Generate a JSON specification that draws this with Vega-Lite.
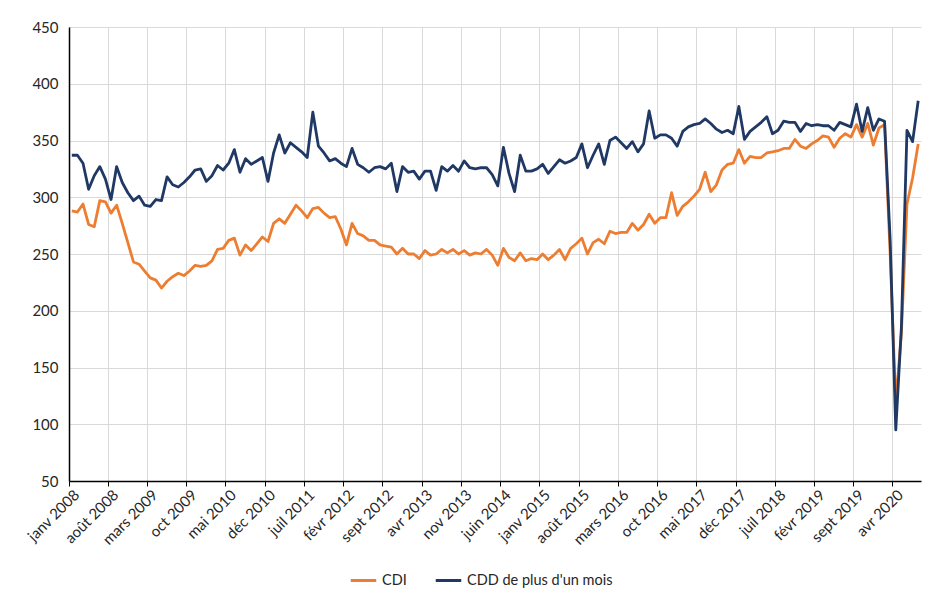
{
  "$schema": "https://vega.github.io/schema/vega-lite/v6.json",
  "width": 852,
  "height": 454,
  "autosize": {"type": "none"},
  "padding": {"left": 69, "top": 27, "right": 15, "bottom": 115},
  "background": "white",
  "config": {"view": {"stroke": null}, "font": "Lato"},
  "data": {"values": [
    {"mois": "janv 2008", "CDI": 288, "CDD": 337},
    {"mois": "févr 2008", "CDI": 287, "CDD": 337},
    {"mois": "mars 2008", "CDI": 294, "CDD": 330},
    {"mois": "avr 2008", "CDI": 276, "CDD": 307},
    {"mois": "mai 2008", "CDI": 274, "CDD": 319},
    {"mois": "juin 2008", "CDI": 297, "CDD": 327},
    {"mois": "juil 2008", "CDI": 296, "CDD": 316},
    {"mois": "août 2008", "CDI": 286, "CDD": 298},
    {"mois": "sept 2008", "CDI": 293, "CDD": 327},
    {"mois": "oct 2008", "CDI": 277, "CDD": 313},
    {"mois": "nov 2008", "CDI": 260, "CDD": 304},
    {"mois": "déc 2008", "CDI": 243, "CDD": 297},
    {"mois": "janv 2009", "CDI": 241, "CDD": 301},
    {"mois": "févr 2009", "CDI": 235, "CDD": 293},
    {"mois": "mars 2009", "CDI": 229, "CDD": 292},
    {"mois": "avr 2009", "CDI": 227, "CDD": 298},
    {"mois": "mai 2009", "CDI": 220, "CDD": 297},
    {"mois": "juin 2009", "CDI": 226, "CDD": 318},
    {"mois": "juil 2009", "CDI": 230, "CDD": 311},
    {"mois": "août 2009", "CDI": 233, "CDD": 309},
    {"mois": "sept 2009", "CDI": 231, "CDD": 313},
    {"mois": "oct 2009", "CDI": 235, "CDD": 318},
    {"mois": "nov 2009", "CDI": 240, "CDD": 324},
    {"mois": "déc 2009", "CDI": 239, "CDD": 325},
    {"mois": "janv 2010", "CDI": 240, "CDD": 314},
    {"mois": "févr 2010", "CDI": 244, "CDD": 319},
    {"mois": "mars 2010", "CDI": 254, "CDD": 328},
    {"mois": "avr 2010", "CDI": 255, "CDD": 324},
    {"mois": "mai 2010", "CDI": 262, "CDD": 330},
    {"mois": "juin 2010", "CDI": 264, "CDD": 342},
    {"mois": "juil 2010", "CDI": 249, "CDD": 322},
    {"mois": "août 2010", "CDI": 258, "CDD": 334},
    {"mois": "sept 2010", "CDI": 253, "CDD": 329},
    {"mois": "oct 2010", "CDI": 259, "CDD": 332},
    {"mois": "nov 2010", "CDI": 265, "CDD": 335},
    {"mois": "déc 2010", "CDI": 261, "CDD": 314},
    {"mois": "janv 2011", "CDI": 277, "CDD": 339},
    {"mois": "févr 2011", "CDI": 281, "CDD": 355},
    {"mois": "mars 2011", "CDI": 277, "CDD": 339},
    {"mois": "avr 2011", "CDI": 285, "CDD": 348},
    {"mois": "mai 2011", "CDI": 293, "CDD": 344},
    {"mois": "juin 2011", "CDI": 288, "CDD": 340},
    {"mois": "juil 2011", "CDI": 282, "CDD": 335},
    {"mois": "août 2011", "CDI": 290, "CDD": 375},
    {"mois": "sept 2011", "CDI": 291, "CDD": 345},
    {"mois": "oct 2011", "CDI": 286, "CDD": 339},
    {"mois": "nov 2011", "CDI": 282, "CDD": 332},
    {"mois": "déc 2011", "CDI": 283, "CDD": 334},
    {"mois": "janv 2012", "CDI": 272, "CDD": 330},
    {"mois": "févr 2012", "CDI": 258, "CDD": 327},
    {"mois": "mars 2012", "CDI": 277, "CDD": 343},
    {"mois": "avr 2012", "CDI": 268, "CDD": 329},
    {"mois": "mai 2012", "CDI": 266, "CDD": 326},
    {"mois": "juin 2012", "CDI": 262, "CDD": 322},
    {"mois": "juil 2012", "CDI": 262, "CDD": 326},
    {"mois": "août 2012", "CDI": 258, "CDD": 327},
    {"mois": "sept 2012", "CDI": 257, "CDD": 325},
    {"mois": "oct 2012", "CDI": 256, "CDD": 330},
    {"mois": "nov 2012", "CDI": 250, "CDD": 305},
    {"mois": "déc 2012", "CDI": 255, "CDD": 327},
    {"mois": "janv 2013", "CDI": 250, "CDD": 322},
    {"mois": "févr 2013", "CDI": 250, "CDD": 323},
    {"mois": "mars 2013", "CDI": 246, "CDD": 316},
    {"mois": "avr 2013", "CDI": 253, "CDD": 323},
    {"mois": "mai 2013", "CDI": 249, "CDD": 323},
    {"mois": "juin 2013", "CDI": 250, "CDD": 306},
    {"mois": "juil 2013", "CDI": 254, "CDD": 327},
    {"mois": "août 2013", "CDI": 251, "CDD": 323},
    {"mois": "sept 2013", "CDI": 254, "CDD": 328},
    {"mois": "oct 2013", "CDI": 250, "CDD": 323},
    {"mois": "nov 2013", "CDI": 253, "CDD": 332},
    {"mois": "déc 2013", "CDI": 249, "CDD": 326},
    {"mois": "janv 2014", "CDI": 251, "CDD": 325},
    {"mois": "févr 2014", "CDI": 250, "CDD": 326},
    {"mois": "mars 2014", "CDI": 254, "CDD": 326},
    {"mois": "avr 2014", "CDI": 249, "CDD": 320},
    {"mois": "mai 2014", "CDI": 240, "CDD": 310},
    {"mois": "juin 2014", "CDI": 255, "CDD": 344},
    {"mois": "juil 2014", "CDI": 247, "CDD": 321},
    {"mois": "août 2014", "CDI": 244, "CDD": 305},
    {"mois": "sept 2014", "CDI": 251, "CDD": 337},
    {"mois": "oct 2014", "CDI": 244, "CDD": 323},
    {"mois": "nov 2014", "CDI": 246, "CDD": 323},
    {"mois": "déc 2014", "CDI": 245, "CDD": 325},
    {"mois": "janv 2015", "CDI": 250, "CDD": 329},
    {"mois": "févr 2015", "CDI": 245, "CDD": 321},
    {"mois": "mars 2015", "CDI": 249, "CDD": 327},
    {"mois": "avr 2015", "CDI": 254, "CDD": 333},
    {"mois": "mai 2015", "CDI": 245, "CDD": 330},
    {"mois": "juin 2015", "CDI": 255, "CDD": 332},
    {"mois": "juil 2015", "CDI": 259, "CDD": 335},
    {"mois": "août 2015", "CDI": 264, "CDD": 347},
    {"mois": "sept 2015", "CDI": 250, "CDD": 326},
    {"mois": "oct 2015", "CDI": 260, "CDD": 337},
    {"mois": "nov 2015", "CDI": 263, "CDD": 347},
    {"mois": "déc 2015", "CDI": 259, "CDD": 329},
    {"mois": "janv 2016", "CDI": 270, "CDD": 350},
    {"mois": "févr 2016", "CDI": 268, "CDD": 353},
    {"mois": "mars 2016", "CDI": 269, "CDD": 348},
    {"mois": "avr 2016", "CDI": 269, "CDD": 343},
    {"mois": "mai 2016", "CDI": 277, "CDD": 349},
    {"mois": "juin 2016", "CDI": 271, "CDD": 340},
    {"mois": "juil 2016", "CDI": 276, "CDD": 347},
    {"mois": "août 2016", "CDI": 285, "CDD": 376},
    {"mois": "sept 2016", "CDI": 277, "CDD": 352},
    {"mois": "oct 2016", "CDI": 282, "CDD": 355},
    {"mois": "nov 2016", "CDI": 282, "CDD": 355},
    {"mois": "déc 2016", "CDI": 304, "CDD": 352},
    {"mois": "janv 2017", "CDI": 284, "CDD": 345},
    {"mois": "févr 2017", "CDI": 292, "CDD": 358},
    {"mois": "mars 2017", "CDI": 296, "CDD": 362},
    {"mois": "avr 2017", "CDI": 301, "CDD": 364},
    {"mois": "mai 2017", "CDI": 307, "CDD": 365},
    {"mois": "juin 2017", "CDI": 322, "CDD": 369},
    {"mois": "juil 2017", "CDI": 305, "CDD": 365},
    {"mois": "août 2017", "CDI": 311, "CDD": 360},
    {"mois": "sept 2017", "CDI": 324, "CDD": 357},
    {"mois": "oct 2017", "CDI": 329, "CDD": 359},
    {"mois": "nov 2017", "CDI": 330, "CDD": 356},
    {"mois": "déc 2017", "CDI": 342, "CDD": 380},
    {"mois": "janv 2018", "CDI": 330, "CDD": 351},
    {"mois": "févr 2018", "CDI": 336, "CDD": 358},
    {"mois": "mars 2018", "CDI": 335, "CDD": 362},
    {"mois": "avr 2018", "CDI": 335, "CDD": 366},
    {"mois": "mai 2018", "CDI": 339, "CDD": 371},
    {"mois": "juin 2018", "CDI": 340, "CDD": 356},
    {"mois": "juil 2018", "CDI": 341, "CDD": 359},
    {"mois": "août 2018", "CDI": 343, "CDD": 367},
    {"mois": "sept 2018", "CDI": 343, "CDD": 366},
    {"mois": "oct 2018", "CDI": 351, "CDD": 366},
    {"mois": "nov 2018", "CDI": 345, "CDD": 358},
    {"mois": "déc 2018", "CDI": 343, "CDD": 365},
    {"mois": "janv 2019", "CDI": 347, "CDD": 363},
    {"mois": "févr 2019", "CDI": 350, "CDD": 364},
    {"mois": "mars 2019", "CDI": 354, "CDD": 363},
    {"mois": "avr 2019", "CDI": 353, "CDD": 363},
    {"mois": "mai 2019", "CDI": 344, "CDD": 359},
    {"mois": "juin 2019", "CDI": 352, "CDD": 366},
    {"mois": "juil 2019", "CDI": 356, "CDD": 364},
    {"mois": "août 2019", "CDI": 353, "CDD": 362},
    {"mois": "sept 2019", "CDI": 364, "CDD": 382},
    {"mois": "oct 2019", "CDI": 353, "CDD": 358},
    {"mois": "nov 2019", "CDI": 365, "CDD": 379},
    {"mois": "déc 2019", "CDI": 346, "CDD": 359},
    {"mois": "janv 2020", "CDI": 361, "CDD": 369},
    {"mois": "févr 2020", "CDI": 364, "CDD": 367},
    {"mois": "mars 2020", "CDI": 250, "CDD": 262},
    {"mois": "avr 2020", "CDI": 118, "CDD": 95},
    {"mois": "mai 2020", "CDI": 180, "CDD": 185},
    {"mois": "juin 2020", "CDI": 294, "CDD": 359},
    {"mois": "juil 2020", "CDI": 317, "CDD": 349},
    {"mois": "août 2020", "CDI": 347, "CDD": 385}
  ]},
  "transform": [{"fold": ["CDI", "CDD"], "as": ["serie", "valeur"]}],
  "mark": {"type": "line", "strokeWidth": 2.8, "strokeJoin": "round"},
  "encoding": {
    "x": {
      "field": "mois",
      "type": "ordinal",
      "sort": null,
      "scale": {"type": "band", "paddingInner": 0, "paddingOuter": 0},
      "axis": {
        "title": null,
        "values": ["janv 2008", "août 2008", "mars 2009", "oct 2009", "mai 2010", "déc 2010", "juil 2011", "févr 2012", "sept 2012", "avr 2013", "nov 2013", "juin 2014", "janv 2015", "août 2015", "mars 2016", "oct 2016", "mai 2017", "déc 2017", "juil 2018", "févr 2019", "sept 2019", "avr 2020"],
        "bandPosition": 0,
        "grid": true,
        "gridColor": "#d9d9d9",
        "gridWidth": 1,
        "domainColor": "#000000",
        "domainWidth": 1.5,
        "tickColor": "#000000",
        "tickSize": 5,
        "labelAngle": -45,
        "labelAlign": "right",
        "labelBaseline": "top",
        "labelFontSize": 15,
        "labelColor": "#262626",
        "labelPadding": 1
      }
    },
    "y": {
      "field": "valeur",
      "type": "quantitative",
      "scale": {"domain": [50, 450], "nice": false, "zero": false},
      "axis": {
        "title": null,
        "values": [50, 100, 150, 200, 250, 300, 350, 400, 450],
        "grid": true,
        "gridColor": "#d9d9d9",
        "gridWidth": 1,
        "domainColor": "#000000",
        "domainWidth": 1.5,
        "ticks": false,
        "labelFontSize": 15,
        "labelColor": "#262626",
        "labelPadding": 11
      }
    },
    "color": {
      "field": "serie",
      "type": "nominal",
      "scale": {"domain": ["CDI", "CDD"], "range": ["#ED7D31", "#1F3864"]},
      "legend": {
        "title": null,
        "orient": "none",
        "direction": "horizontal",
        "legendX": 280,
        "legendY": 539,
        "symbolType": "stroke",
        "symbolSize": 650,
        "symbolStrokeWidth": 3,
        "labelFontSize": 14.5,
        "labelColor": "#262626",
        "columnPadding": 22,
        "labelExpr": "datum.label == 'CDD' ? \"CDD de plus d'un mois\" : datum.label"
      }
    }
  }
}
